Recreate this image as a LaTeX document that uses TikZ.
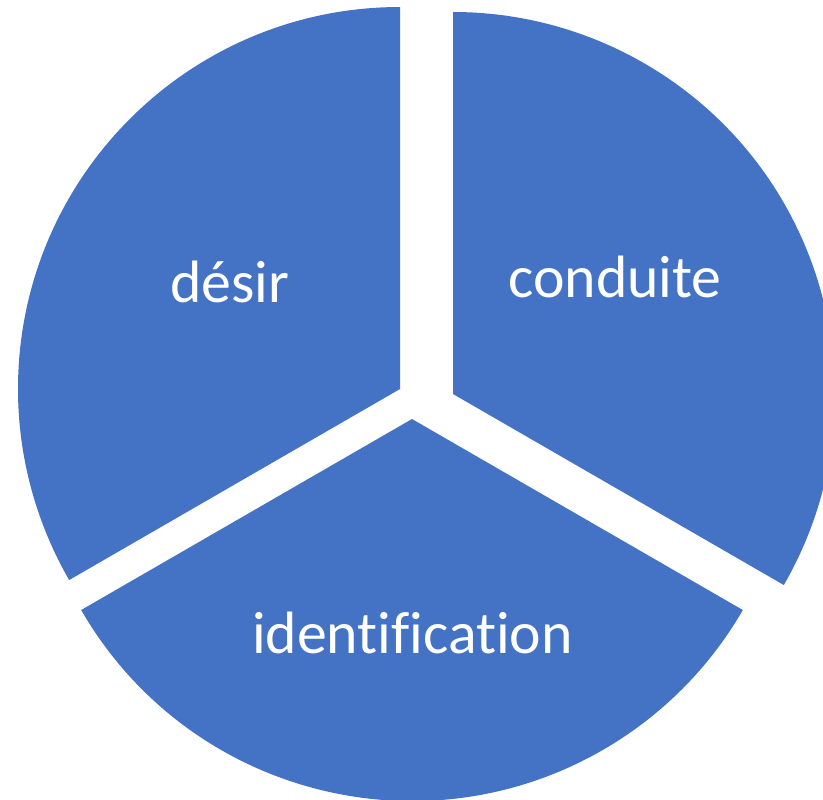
\documentclass[tikz,border=0pt]{standalone}
\usepackage{fontspec}
\setmainfont[Ligatures={NoCommon}]{Carlito}
\usepackage{tikz}
\usetikzlibrary{positioning, calc}
\definecolor{pieblue}{HTML}{4472C4}
\tikzset{
    slice/.style={fill=pieblue, draw=none},
    slicetext/.style={text=white, anchor=base, font=\fontsize{17}{20}\selectfont, inner sep=0pt},
}

\begin{document}
\begin{tikzpicture}
    \tikzset{
      radius=3.82
    }
    \clip (0,0) rectangle (8.23,-7.99);

    \coordinate (cdesir) at (4.00,-3.89);
    \coordinate (cconduite) at (4.53,-3.94);
    \coordinate (cident) at (4.12,-4.19);

    \fill[slice] (cdesir) -- ++(90:3.82) arc[start angle=90, end angle=210] -- cycle;
    \fill[slice] (cconduite) -- ++(-30:3.82) arc[start angle=-30, end angle=90] -- cycle;
    \fill[slice] (cident) -- ++(210:3.82) arc[start angle=210, end angle=330] -- cycle;

    \node[slicetext] (desir) at (2.30,-3.02) {désir};
    \node[slicetext] (conduite) at (6.15,-2.97) {conduite};
    \node[slicetext] (ident) at (4.125,-6.53) {identification};
  \end{tikzpicture}
\end{document}
